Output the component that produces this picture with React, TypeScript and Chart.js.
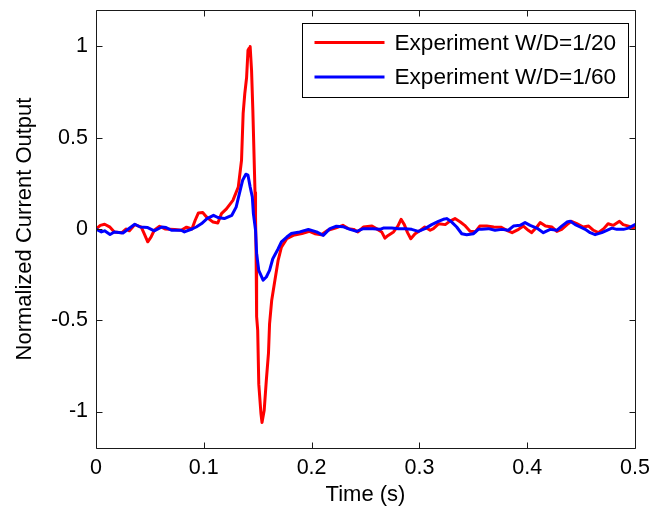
import React, { useEffect, useRef } from "react";
import { Chart, registerables } from "chart.js";

Chart.register(...registerables);

// ---- data ----
const redTime = [
  0.001, 0.004, 0.008, 0.013, 0.017, 0.024, 0.028, 0.031, 0.036, 0.042,
  0.045, 0.048, 0.051, 0.054, 0.059, 0.064, 0.073, 0.079, 0.084, 0.089,
  0.092, 0.095, 0.099, 0.1025, 0.1086, 0.113, 0.1164, 0.121, 0.127, 0.132,
  0.135, 0.1365, 0.138, 0.1397, 0.141, 0.142, 0.1425, 0.143, 0.1443, 0.1455,
  0.1464, 0.1475, 0.148, 0.1485, 0.149, 0.15, 0.151, 0.153, 0.154, 0.156,
  0.158, 0.16, 0.161, 0.163, 0.166, 0.169, 0.172, 0.177, 0.183, 0.191,
  0.198, 0.203, 0.209, 0.215, 0.222, 0.229, 0.234, 0.239, 0.243, 0.248,
  0.256, 0.26, 0.265, 0.268, 0.271, 0.276, 0.28, 0.283, 0.286, 0.289,
  0.292, 0.296, 0.301, 0.305, 0.31, 0.313, 0.318, 0.324, 0.328, 0.333,
  0.338, 0.342, 0.347, 0.352, 0.356, 0.3625, 0.369, 0.376, 0.381, 0.386,
  0.392, 0.3965, 0.401, 0.404, 0.409, 0.412, 0.417, 0.423, 0.4275, 0.432,
  0.437, 0.441, 0.446, 0.452, 0.457, 0.4615, 0.466, 0.471, 0.475, 0.48,
  0.4856, 0.489, 0.494, 0.4986, 0.5,
];
const redValue = [
  0.005, 0.02, 0.026, 0.01, -0.016, -0.02, 0.0, -0.01, 0.024, 0.01,
  -0.03, -0.07, -0.045, -0.007, 0.015, 0.0, -0.003, -0.007, 0.01, 0.0,
  0.048, 0.088, 0.09, 0.066, 0.038, 0.033, 0.084, 0.11, 0.157, 0.23,
  0.377, 0.633, 0.74, 0.83, 0.98, 0.99, 0.95, 1.0, 0.87, 0.65,
  0.45, 0.2, 0.066, -0.135, -0.48, -0.556, -0.85, -1.01, -1.06, -0.995,
  -0.83, -0.68, -0.52, -0.39, -0.28, -0.17, -0.1, -0.053, -0.035, -0.025,
  -0.013, -0.026, -0.031, -0.007, 0.005, 0.02, 0.002, -0.002, -0.016, 0.011,
  0.016, 0.002, -0.016, -0.05, -0.035, -0.016, 0.016, 0.053, 0.024, -0.02,
  -0.053, -0.026, -0.007, 0.011, -0.007, 0.002, 0.029, 0.024, 0.042, 0.057,
  0.038, 0.02, -0.012, -0.015, 0.016, 0.016, 0.011, 0.009, -0.007, -0.02,
  -0.002, 0.016, -0.007, -0.02, 0.011, 0.035, 0.016, 0.011, -0.013, -0.002,
  0.024, 0.042, 0.029, 0.011, 0.016, -0.007, -0.02, 0.002, 0.029, 0.02,
  0.042, 0.024, 0.016, 0.005, 0.015,
];
const blueTime = [
  0.0, 0.005, 0.008, 0.013, 0.017, 0.025, 0.03, 0.036, 0.041, 0.048,
  0.054, 0.061, 0.065, 0.07, 0.079, 0.082, 0.089, 0.093, 0.098, 0.103,
  0.109, 0.113, 0.119, 0.126, 0.13, 0.133, 0.136, 0.139, 0.141, 0.143,
  0.145, 0.146, 0.148, 0.149, 0.151, 0.155, 0.158, 0.161, 0.164, 0.169,
  0.172, 0.177, 0.181, 0.189, 0.197, 0.2046, 0.2108, 0.217, 0.223, 0.229,
  0.2356, 0.2418, 0.248, 0.257, 0.2634, 0.2665, 0.2743, 0.2804, 0.2866, 0.2928,
  0.299, 0.3052, 0.3114, 0.3176, 0.3222, 0.3253, 0.33, 0.3346, 0.3393, 0.3439,
  0.35, 0.3547, 0.3578, 0.364, 0.3702, 0.3764, 0.3825, 0.3872, 0.3934, 0.398,
  0.4027, 0.4089, 0.415, 0.4213, 0.4275, 0.432, 0.4368, 0.44, 0.4445, 0.4491,
  0.4538, 0.4584, 0.463, 0.4692, 0.4739, 0.4786, 0.4832, 0.4893, 0.494, 0.5,
];
const blueValue = [
  0.0, -0.016, -0.01, -0.03, -0.016, -0.022, 0.0, 0.026, 0.011, 0.008,
  -0.01, 0.011, 0.008, -0.007, -0.007, -0.016, 0.0, 0.011, 0.03, 0.057,
  0.075, 0.063, 0.057, 0.075, 0.12, 0.194, 0.267, 0.3, 0.295, 0.23,
  0.176, 0.084, -0.007, -0.135, -0.227, -0.28, -0.263, -0.227, -0.163, -0.108,
  -0.07, -0.044, -0.025, -0.016, -0.003, -0.016, -0.035, 0.002, 0.015, 0.013,
  -0.002, -0.013, 0.002, 0.002, -0.002, 0.005, 0.005, 0.002, 0.002, -0.002,
  -0.013, 0.002, 0.024, 0.042, 0.053, 0.057, 0.038, 0.011, -0.026, -0.031,
  -0.026, -0.002, -0.002, 0.002, -0.007, -0.002, -0.007, 0.016, 0.02, 0.035,
  0.02, 0.005, -0.02, -0.002, -0.007, 0.016, 0.038, 0.042, 0.024, 0.011,
  -0.002, -0.02, -0.031, -0.02, -0.007, 0.005, -0.002, -0.002, 0.005, 0.024,
];
const xTicks = [0, 0.1, 0.2, 0.3, 0.4, 0.5];
const yTicks = [-1, -0.5, 0, 0.5, 1];
const seriesLabels = ["Experiment W/D=1/20", "Experiment W/D=1/60"];
const xTitle = "Time (s)";
const yTitle = "Normalized Current Output";

const FONT = "'Liberation Sans', Arial, Helvetica, sans-serif";
const TICK_SIZE = 21.5;
const TITLE_SIZE = 22;
const LEGEND_SIZE = 22.6;

const fmt = (v: number) => String(Number(v.toFixed(3)));

const framePlugin = {
  id: "frame",
  afterDatasetsDraw(chart: any) {
    const { ctx, chartArea, scales } = chart;
    const { left, right, top, bottom } = chartArea;
    const L = Math.round(left) + 0.5;
    const R = Math.round(right) + 0.5;
    const T = Math.round(top) + 0.5;
    const B = Math.round(bottom) + 0.5;
    const tl = 6;
    ctx.save();
    ctx.strokeStyle = "#1a1a1a";
    ctx.lineWidth = 1;
    ctx.beginPath();
    ctx.rect(L, T, R - L, B - T);
    for (const t of xTicks) {
      const px = Math.round(scales.x.getPixelForValue(t)) + 0.5;
      ctx.moveTo(px, B);
      ctx.lineTo(px, B - tl);
      ctx.moveTo(px, T);
      ctx.lineTo(px, T + tl);
    }
    for (const t of yTicks) {
      const py = Math.round(scales.y.getPixelForValue(t)) + 0.5;
      ctx.moveTo(L, py);
      ctx.lineTo(L + tl, py);
      ctx.moveTo(R, py);
      ctx.lineTo(R - tl, py);
    }
    ctx.stroke();
    ctx.restore();
  },
};

const legendPlugin = {
  id: "boxLegend",
  afterDraw(chart: any) {
    const { ctx, chartArea } = chart;
    const datasets = chart.data.datasets;
    ctx.save();
    ctx.font = `${LEGEND_SIZE}px ${FONT}`;
    let w = 0;
    for (const ds of datasets) w = Math.max(w, ctx.measureText(ds.label).width);
    const lineLen = 70;
    const padL = 12;
    const gap = 10;
    const padR = 12;
    const rowH = 34.5;
    const boxW = Math.round(padL + lineLen + gap + w + padR);
    const boxH = 74;
    const right = Math.round(chartArea.right) - 7;
    const x0 = right - boxW + 0.5;
    const y0 = Math.round(chartArea.top) + 13 + 0.5;
    ctx.fillStyle = "#ffffff";
    ctx.fillRect(x0, y0, boxW, boxH);
    ctx.strokeStyle = "#000000";
    ctx.lineWidth = 1;
    ctx.strokeRect(x0, y0, boxW, boxH);
    seriesLabels.forEach((label, k) => {
      const ds = datasets.find((d: any) => d.label === label);
      const cy = y0 + 19 + k * rowH;
      ctx.strokeStyle = ds.borderColor;
      ctx.lineWidth = 3;
      ctx.beginPath();
      ctx.moveTo(x0 + padL, cy);
      ctx.lineTo(x0 + padL + lineLen, cy);
      ctx.stroke();
      ctx.fillStyle = "#000000";
      ctx.textAlign = "left";
      ctx.textBaseline = "middle";
      ctx.fillText(ds.label, x0 + padL + lineLen + gap, cy + 1);
    });
    ctx.restore();
  },
};

export default function App() {
  const ref = useRef<HTMLCanvasElement | null>(null);

  useEffect(() => {
    if (!ref.current) return;
    const redData = redTime.map((t, i) => ({ x: t, y: redValue[i] }));
    const blueData = blueTime.map((t, i) => ({ x: t, y: blueValue[i] }));
    const chart = new Chart(ref.current, {
      type: "line",
      data: {
        datasets: [
          {
            label: seriesLabels[0],
            data: redData,
            borderColor: "#ff0000",
            borderWidth: 3,
            pointRadius: 0,
            tension: 0,
            order: 2,
            borderJoinStyle: "round",
            borderCapStyle: "round",
          },
          {
            label: seriesLabels[1],
            data: blueData,
            borderColor: "#0000ff",
            borderWidth: 3,
            pointRadius: 0,
            tension: 0,
            order: 1,
            borderJoinStyle: "round",
            borderCapStyle: "round",
          },
        ],
      },
      options: {
        animation: false,
        responsive: false,
        devicePixelRatio: 1,
        layout: { padding: { top: 10, right: 31, left: 0, bottom: 0 } },
        plugins: {
          legend: { display: false },
          tooltip: { enabled: false },
        },
        scales: {
          x: {
            type: "linear",
            min: 0,
            max: 0.5,
            afterFit: (s: any) => {
              s.height = 63;
              s.paddingLeft = 0;
              s.paddingRight = 0;
            },
            afterBuildTicks: (s: any) => {
              s.ticks = xTicks.map((v) => ({ value: v }));
            },
            grid: { display: false, drawTicks: false },
            border: { display: false },
            ticks: {
              padding: 7,
              color: "#000",
              font: { family: FONT, size: TICK_SIZE },
              maxRotation: 0,
              callback: (v: any) => fmt(Number(v)),
            },
            title: {
              display: true,
              text: xTitle,
              color: "#000",
              font: { family: FONT, size: TITLE_SIZE },
              padding: { top: 0, bottom: 3 },
            },
          },
          y: {
            type: "linear",
            min: -1.2,
            max: 1.2,
            afterFit: (s: any) => {
              s.width = 96;
              s.paddingTop = 0;
              s.paddingBottom = 0;
            },
            afterBuildTicks: (s: any) => {
              s.ticks = yTicks.map((v) => ({ value: v }));
            },
            grid: { display: false, drawTicks: false },
            border: { display: false },
            ticks: {
              padding: 8,
              color: "#000",
              font: { family: FONT, size: TICK_SIZE },
              callback: (v: any) => fmt(Number(v)),
            },
            title: {
              display: true,
              text: yTitle,
              color: "#000",
              font: { family: FONT, size: TITLE_SIZE },
              padding: { top: 12, bottom: 0 },
            },
          },
        },
      },
      plugins: [framePlugin, legendPlugin],
    });
    return () => chart.destroy();
  }, []);

  return (
    <div
      style={{
        position: "fixed",
        left: 0,
        top: 0,
        width: 666,
        height: 511,
        background: "#ffffff",
      }}
    >
      <canvas
        ref={ref}
        width={666}
        height={511}
        style={{ display: "block", width: 666, height: 511 }}
      />
    </div>
  );
}
